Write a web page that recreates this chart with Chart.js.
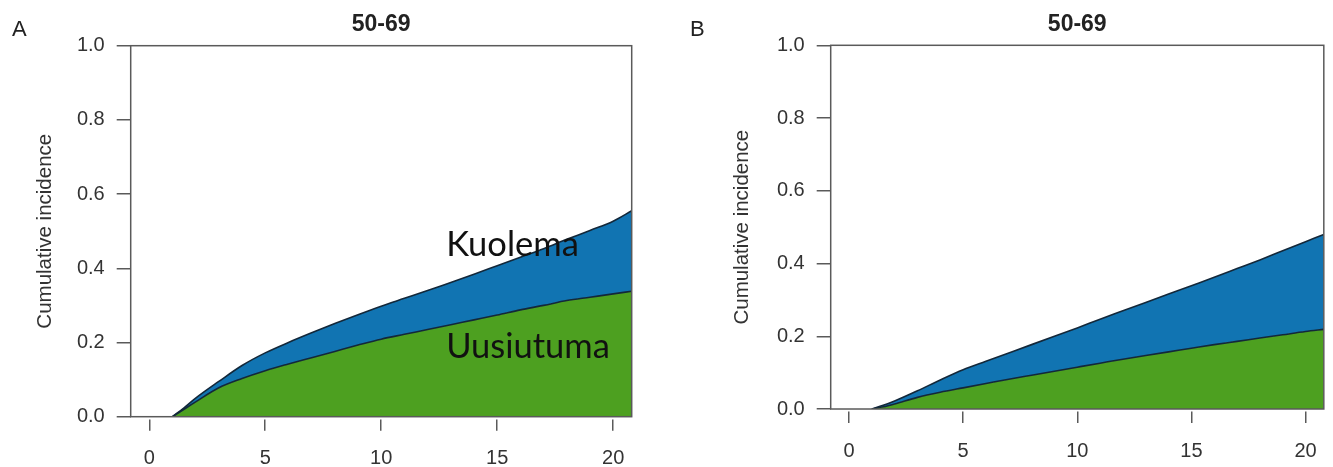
<!DOCTYPE html>
<html>
<head>
<meta charset="utf-8">
<script src="https://cdn.jsdelivr.net/npm/chart.js@4.4.1/dist/chart.umd.min.js"></script>
<style>
  body { margin: 0; background: #fff; width: 1333px; height: 467px; overflow: hidden; position: relative; }
  canvas { position: absolute; top: 0; }
  #chartA { left: 0; }
  #chartB { left: 666px; }
</style>
</head>
<body>
<canvas id="chartA" width="666" height="467"></canvas>
<canvas id="chartB" width="667" height="467"></canvas>
<script>
// time since diagnosis (years)
var years = [1, 1.5, 2, 3, 4, 5, 6, 7, 8, 9, 10, 11, 12, 13, 14, 15, 16, 17, 18, 19, 20, 20.8];

// panel A: relapse (green) and relapse + death (top of blue)
var relapseA = [0, 0.02, 0.04, 0.078, 0.103, 0.124, 0.142, 0.159, 0.176, 0.193, 0.209, 0.222, 0.235, 0.248, 0.261, 0.274, 0.288, 0.300, 0.313, 0.322, 0.331, 0.338];
var totalA   = [0, 0.024, 0.05, 0.095, 0.138, 0.172, 0.2, 0.226, 0.251, 0.275, 0.298, 0.319, 0.34, 0.362, 0.384, 0.407, 0.43, 0.453, 0.478, 0.502, 0.527, 0.555];

// panel B
var relapseB = [0, 0.006, 0.014, 0.032, 0.046, 0.058, 0.07, 0.082, 0.093, 0.104, 0.115, 0.126, 0.137, 0.147, 0.157, 0.167, 0.177, 0.186, 0.195, 0.204, 0.213, 0.219];
var totalB   = [0, 0.01, 0.022, 0.05, 0.08, 0.108, 0.131, 0.154, 0.177, 0.2, 0.223, 0.247, 0.27, 0.293, 0.316, 0.339, 0.362, 0.386, 0.41, 0.435, 0.46, 0.48];

var xTicks = [0, 5, 10, 15, 20];
var yTicks = [0, 0.2, 0.4, 0.6, 0.8, 1.0];
var seriesNames = ['Uusiutuma', 'Kuolema'];
var panelTitle = '50-69';
var yLabel = 'Cumulative incidence';

var tickFont = { family: '"Liberation Sans", Arial, sans-serif', size: 20 };
var yTitleSize = 20.5;
var axisGrey = '#5a5a5a';

// frame, title, panel letter and the in-plot labels
var panelText = {
  id: 'panelText',
  afterDraw: function (chart, args, opts) {
    var ctx = chart.ctx, a = chart.chartArea;
    ctx.save();
    ctx.strokeStyle = axisGrey;
    ctx.lineWidth = 1.5;
    ctx.strokeRect(a.left, a.top, a.right - a.left, a.bottom - a.top);

    ctx.fillStyle = '#222';
    ctx.textBaseline = 'alphabetic';
    ctx.textAlign = 'center';
    ctx.font = 'bold 23px "Liberation Sans", Arial, sans-serif';
    ctx.fillText(panelTitle, (a.left + a.right) / 2, 31);

    ctx.textAlign = 'left';
    ctx.font = '22px "Liberation Sans", Arial, sans-serif';
    ctx.fillText(opts.letter, opts.letterX, 36);

    if (opts.areaLabels) {
      ctx.fillStyle = '#111';
      ctx.font = '34.5px Lato, "Open Sans", sans-serif';
      opts.areaLabels.forEach(function (l) {
        ctx.fillText(l.text, chart.scales.x.getPixelForValue(l.t), chart.scales.y.getPixelForValue(l.v));
      });
    }
    ctx.restore();
  }
};

function makePanel(id, relapse, total, g) {
  var ctx = document.getElementById(id).getContext('2d');
  return new Chart(ctx, {
    type: 'line',
    data: {
      datasets: [{
        label: seriesNames[0],
        data: years.map(function (t, i) { return { x: t, y: relapse[i] }; }),
        borderColor: '#13283a',
        borderWidth: 1.6,
        backgroundColor: '#4da020',
        fill: 'origin',
        pointRadius: 0,
        cubicInterpolationMode: 'monotone'
      }, {
        label: seriesNames[1],
        data: years.map(function (t, i) { return { x: t, y: total[i] }; }),
        borderColor: '#13283a',
        borderWidth: 1.6,
        backgroundColor: '#1174b2',
        fill: '-1',
        pointRadius: 0,
        cubicInterpolationMode: 'monotone'
      }]
    },
    options: {
      responsive: false,
      animation: false,
      layout: { padding: { top: g.top, right: g.right, bottom: 0, left: 0 } },
      plugins: {
        legend: { display: false },
        tooltip: { enabled: false },
        panelText: { letter: g.letter, letterX: g.letterX, areaLabels: g.areaLabels }
      },
      scales: {
        x: {
          type: 'linear',
          min: -0.8,
          max: 20.8,
          afterBuildTicks: function (s) { s.ticks = xTicks.map(function (v) { return { value: v }; }); },
          afterFit: function (s) { s.height = g.xHeight; },
          border: { display: false },
          grid: { display: true, drawOnChartArea: false, drawTicks: true, tickLength: 14,
                  tickBorderDash: [0, 2.5, 11.5, 60], color: axisGrey, lineWidth: 1.5 },
          ticks: { font: tickFont, color: '#333', padding: 16, maxRotation: 0 }
        },
        y: {
          min: 0,
          max: 1,
          afterBuildTicks: function (s) { s.ticks = yTicks.map(function (v) { return { value: v }; }); },
          afterFit: function (s) { s.width = g.yWidth; },
          border: { display: false },
          grid: { display: true, drawOnChartArea: false, drawTicks: true, tickLength: 14,
                  color: axisGrey, lineWidth: 1.5 },
          ticks: { font: tickFont, color: '#333', padding: 12,
                   callback: function (v) { return v.toFixed(1); } },
          title: { display: true, text: yLabel, color: '#333',
                   font: { family: '"Liberation Sans", Arial, sans-serif', size: yTitleSize },
                   padding: { top: g.yTitleX - yTitleSize * 0.6, bottom: 0 } }
        }
      }
    },
    plugins: [panelText]
  });
}

makePanel('chartA', relapseA, totalA, {
  top: 45.7, right: 34.3, xHeight: 50.3, yWidth: 130.7, yTitleX: 45,
  letter: 'A', letterX: 12,
  areaLabels: [{ text: seriesNames[1], t: 12.8, v: 0.433 }, { text: seriesNames[0], t: 12.8, v: 0.158 }]
});

makePanel('chartB', relapseB, totalB, {
  top: 45.3, right: 9, xHeight: 58, yWidth: 164.7, yTitleX: 76,
  letter: 'B', letterX: 24
});
</script>
</body>
</html>
